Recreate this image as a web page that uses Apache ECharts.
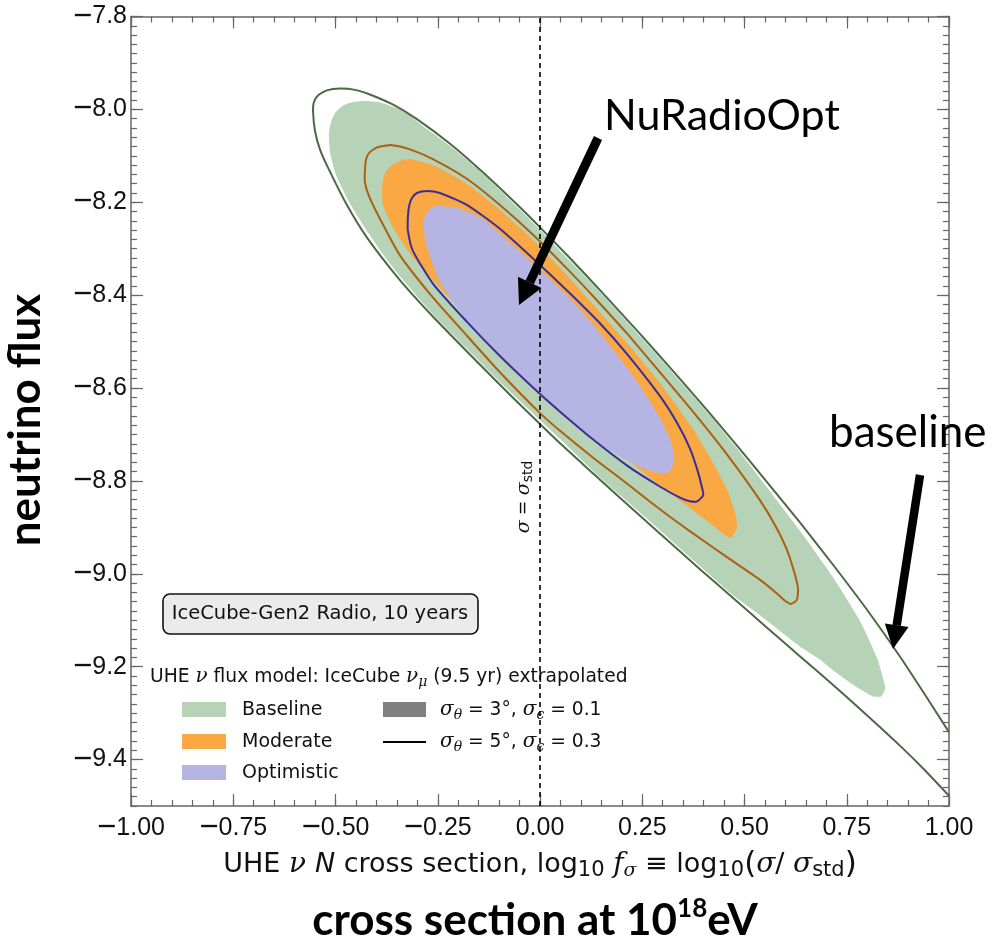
<!DOCTYPE html>
<html>
<head>
<meta charset="utf-8">
<script src="https://cdn.jsdelivr.net/npm/echarts@6.0.0/dist/echarts.min.js"></script>
<style>
  html, body { margin: 0; padding: 0; background: #fff; }
  #chart { width: 994px; height: 947px; }
</style>
</head>
<body>
<div id="chart"></div>
<script>
// Axis ranges and labelled tick positions
const xRange = [-1, 1];
const yRange = [-9.5, -7.8];
const xTickValues = [-1, -0.75, -0.5, -0.25, 0, 0.25, 0.5, 0.75, 1];
const yTickValues = [-9.4, -9.2, -9.0, -8.8, -8.6, -8.4, -8.2, -8.0, -7.8];
const xMinorStep = 0.05;
const yMinorStep = 0.02;
const stdCrossSection = 0; // log10 f_sigma = 0

// Baseline, sigma_theta = 5 deg / sigma_eps = 0.3 (outline, leaves through the right edge)
const baselineEdge = [
  [1.000,-9.341],[0.941,-9.260],[0.880,-9.178],[0.800,-9.078],[0.716,-8.980],[0.636,-8.890],
  [0.550,-8.797],[0.477,-8.719],[0.408,-8.647],[0.325,-8.563],[0.244,-8.483],[0.159,-8.401],
  [0.073,-8.320],[0.000,-8.254],[-0.056,-8.205],[-0.139,-8.136],[-0.220,-8.074],[-0.301,-8.021],
  [-0.359,-7.990],[-0.416,-7.968],[-0.452,-7.958],[-0.489,-7.955],[-0.521,-7.959],[-0.543,-7.970],
  [-0.553,-7.985],[-0.555,-8.004],[-0.550,-8.047],[-0.538,-8.086],[-0.518,-8.126],[-0.472,-8.206],
  [-0.423,-8.276],[-0.342,-8.368],[-0.262,-8.446],[-0.178,-8.522],[-0.098,-8.593],[-0.024,-8.657],
  [0.049,-8.719],[0.130,-8.784],[0.196,-8.837],[0.293,-8.913],[0.391,-8.990],[0.472,-9.052],
  [0.555,-9.116],[0.636,-9.178],[0.716,-9.239],[0.800,-9.305],[0.880,-9.370],[0.941,-9.423],
  [1.000,-9.478]
];
// Baseline, sigma_theta = 3 deg / sigma_eps = 0.1 (filled)
const baselineFill = [
  [-0.516,-8.051],[-0.511,-8.028],[-0.501,-8.008],[-0.484,-7.993],[-0.462,-7.985],[-0.428,-7.982],
  [-0.391,-7.985],[-0.355,-7.996],[-0.325,-8.008],[-0.301,-8.026],[-0.220,-8.079],[-0.139,-8.139],
  [-0.056,-8.210],[0.000,-8.259],[0.073,-8.326],[0.159,-8.405],[0.244,-8.488],[0.325,-8.568],
  [0.408,-8.651],[0.477,-8.725],[0.555,-8.814],[0.636,-8.908],[0.716,-9.007],[0.782,-9.101],
  [0.824,-9.181],[0.839,-9.226],[0.844,-9.247],[0.834,-9.264],[0.814,-9.264],[0.787,-9.251],
  [0.758,-9.234],[0.721,-9.211],[0.685,-9.185],[0.636,-9.157],[0.604,-9.135],[0.555,-9.101],
  [0.521,-9.078],[0.472,-9.046],[0.391,-8.983],[0.293,-8.906],[0.196,-8.831],[0.130,-8.779],
  [0.049,-8.710],[-0.024,-8.649],[-0.098,-8.587],[-0.178,-8.516],[-0.262,-8.441],[-0.342,-8.360],
  [-0.381,-8.315],[-0.425,-8.259],[-0.467,-8.199],[-0.499,-8.141],[-0.513,-8.094]
];
// Moderate
const moderateEdge = [
  [-0.428,-8.131],[-0.425,-8.107],[-0.416,-8.092],[-0.396,-8.081],[-0.362,-8.077],[-0.318,-8.086],
  [-0.262,-8.107],[-0.178,-8.150],[-0.098,-8.206],[-0.017,-8.270],[0.066,-8.343],[0.139,-8.411],
  [0.213,-8.483],[0.293,-8.566],[0.374,-8.651],[0.457,-8.743],[0.538,-8.842],[0.575,-8.896],
  [0.604,-8.949],[0.623,-9.001],[0.631,-9.033],[0.628,-9.056],[0.614,-9.065],[0.599,-9.058],
  [0.575,-9.039],[0.538,-9.013],[0.457,-8.964],[0.374,-8.913],[0.293,-8.861],[0.213,-8.806],
  [0.130,-8.750],[0.049,-8.692],[0.000,-8.654],[-0.098,-8.566],[-0.178,-8.488],[-0.262,-8.405],
  [-0.342,-8.315],[-0.384,-8.248],[-0.416,-8.191],[-0.428,-8.158]
];
const moderateFill = [
  [-0.386,-8.163],[-0.379,-8.137],[-0.362,-8.120],[-0.342,-8.111],[-0.318,-8.107],[-0.262,-8.120],
  [-0.178,-8.161],[-0.098,-8.216],[-0.017,-8.281],[0.049,-8.341],[0.130,-8.420],[0.213,-8.503],
  [0.293,-8.589],[0.374,-8.688],[0.416,-8.750],[0.457,-8.818],[0.477,-8.870],[0.482,-8.900],
  [0.467,-8.923],[0.447,-8.913],[0.416,-8.891],[0.374,-8.863],[0.293,-8.810],[0.213,-8.754],
  [0.130,-8.694],[0.049,-8.634],[-0.032,-8.570],[-0.098,-8.516],[-0.178,-8.446],[-0.262,-8.368],
  [-0.311,-8.319],[-0.359,-8.255],[-0.384,-8.206]
];
// Optimistic
const optimisticEdge = [
  [-0.323,-8.233],[-0.320,-8.208],[-0.313,-8.191],[-0.301,-8.180],[-0.276,-8.176],[-0.245,-8.180],
  [-0.178,-8.206],[-0.098,-8.257],[-0.017,-8.321],[0.066,-8.390],[0.147,-8.461],[0.213,-8.527],
  [0.293,-8.617],[0.335,-8.675],[0.367,-8.731],[0.386,-8.780],[0.396,-8.814],[0.399,-8.831],
  [0.384,-8.844],[0.367,-8.844],[0.342,-8.836],[0.293,-8.812],[0.213,-8.767],[0.130,-8.711],
  [0.049,-8.651],[0.000,-8.613],[-0.098,-8.531],[-0.178,-8.458],[-0.262,-8.375],[-0.311,-8.304],
  [-0.323,-8.261]
];
const optimisticFill = [
  [-0.245,-8.208],[-0.203,-8.212],[-0.139,-8.236],[-0.098,-8.268],[-0.017,-8.332],[0.066,-8.401],
  [0.130,-8.463],[0.213,-8.557],[0.252,-8.606],[0.293,-8.664],[0.318,-8.711],[0.328,-8.748],
  [0.323,-8.771],[0.311,-8.784],[0.286,-8.782],[0.252,-8.773],[0.213,-8.756],[0.130,-8.711],
  [0.049,-8.651],[0.000,-8.611],[-0.098,-8.529],[-0.178,-8.456],[-0.245,-8.370],[-0.276,-8.298],
  [-0.284,-8.261],[-0.284,-8.240],[-0.276,-8.221],[-0.262,-8.210]
];

const COLORS = {
  baselineFill: '#b6d2b7', moderateFill: '#f9a844', optimisticFill: '#b5b4e2',
  baselineEdge: '#4b6a44', moderateEdge: '#ad6012', optimisticEdge: '#3a2f99'
};

const SANS = 'DejaVu Sans';
const SERIF = 'DejaVu Serif';
const NUM = 'Liberation Sans';
const BIG = 'Lato';

// Closed region or open outline drawn through the cartesian scales
function contour(name, pts, closed, style, z) {
  return {
    type: 'custom', name: name, coordinateSystem: 'cartesian2d',
    xAxisIndex: 0, yAxisIndex: 0, silent: true, z: z, data: pts,
    renderItem: function (params, api) {
      if (params.dataIndex !== 0) return null;
      const points = pts.map(function (p) { return api.coord(p); });
      return {
        type: closed ? 'polygon' : 'polyline',
        shape: { points: points, smooth: 0.2 },
        style: style
      };
    }
  };
}

const numRich = {
  m: { fontFamily: NUM, fontSize: 33, lineHeight: 30, color: '#111', verticalAlign: 'middle' },
  n: { fontFamily: NUM, fontSize: 25, lineHeight: 30, color: '#111', verticalAlign: 'middle' }
};
function fmt(v, d) {
  const r = Math.abs(v).toFixed(d);
  return v < -1e-9 ? '{m|\u2212}{n|' + r + '}' : '{n|' + r + '}';
}

const titleRich = {
  t: { fontFamily: SANS, fontSize: 27, lineHeight: 32, color: '#111', verticalAlign: 'middle' },
  g: { fontFamily: SERIF, fontStyle: 'italic', fontSize: 28, lineHeight: 32, color: '#111', verticalAlign: 'middle' },
  n: { fontFamily: SANS, fontStyle: 'italic', fontSize: 27, lineHeight: 32, color: '#111', verticalAlign: 'middle' },
  s: { fontFamily: SANS, fontSize: 21, lineHeight: 14, color: '#111', verticalAlign: 'bottom' },
  gs: { fontFamily: SERIF, fontStyle: 'italic', fontSize: 19, lineHeight: 14, color: '#111', verticalAlign: 'bottom' },
  p: { fontFamily: SANS, fontSize: 31, lineHeight: 32, color: '#111', verticalAlign: 'middle' }
};

const legendRich = {
  t: { fontFamily: SANS, fontSize: 18.7, lineHeight: 24, fill: '#111', verticalAlign: 'middle' },
  g: { fontFamily: SERIF, fontStyle: 'italic', fontSize: 20, lineHeight: 24, fill: '#111', verticalAlign: 'middle' },
  s: { fontFamily: SERIF, fontStyle: 'italic', fontSize: 14, lineHeight: 12, fill: '#111', verticalAlign: 'bottom' }
};

const frameLine = { color: '#666', width: 1.5 };
const tickLine = { color: '#666', width: 1.2 };

function majorAxis(pos, range, ticks, labels) {
  return {
    type: 'value', position: pos, min: range[0], max: range[1],
    axisLine: { show: true, onZero: false, lineStyle: frameLine },
    axisTick: { show: true, inside: true, length: 12, customValues: ticks, lineStyle: tickLine },
    axisLabel: labels ? labels : { show: false },
    splitLine: { show: false }
  };
}
function minorAxis(pos, range, step) {
  return {
    type: 'value', position: pos, min: range[0], max: range[1], interval: step,
    axisLine: { show: false, onZero: false },
    axisTick: { show: true, inside: true, length: 6, lineStyle: tickLine },
    axisLabel: { show: false },
    splitLine: { show: false }
  };
}

const xBottom = majorAxis('bottom', xRange, xTickValues, {
  show: true, customValues: xTickValues, margin: 7,
  formatter: function (v) { return fmt(v, 2); }, rich: numRich
});
xBottom.name = '{t|UHE }{g|\u03bd }{n|N}{t| cross section, log}{s|10}{t| }{g|f}{gs|\u03c3}{t| \u2261 log}{s|10}{p|(}{g|\u03c3}{t|/ }{g|\u03c3}{s|std}{p|)}';
xBottom.nameLocation = 'middle';
xBottom.nameGap = 42;
xBottom.nameTextStyle = { rich: titleRich };

const yLeft = majorAxis('left', yRange, yTickValues, {
  show: true, customValues: yTickValues, margin: 4,
  formatter: function (v) { return fmt(v, 1); }, rich: numRich
});

// Arrow helper: shaft plus triangular head
function arrow(from, tip, headLen, headHalf, width) {
  const dx = tip[0] - from[0], dy = tip[1] - from[1];
  const len = Math.sqrt(dx * dx + dy * dy);
  const ux = dx / len, uy = dy / len;
  const bx = tip[0] - headLen * ux, by = tip[1] - headLen * uy;
  const nx = -uy, ny = ux;
  return [
    { type: 'polyline', z: 60, shape: { points: [from, [bx, by]] },
      style: { stroke: '#000', lineWidth: width, fill: null } },
    { type: 'polygon', z: 60,
      shape: { points: [tip, [bx + headHalf * nx, by + headHalf * ny], [bx - headHalf * nx, by - headHalf * ny]] },
      style: { fill: '#000' } }
  ];
}

const legendRows = [
  { label: 'Baseline', color: COLORS.baselineFill, y: 710 },
  { label: 'Moderate', color: COLORS.moderateFill, y: 742 },
  { label: 'Optimistic', color: COLORS.optimisticFill, y: 773 }
];

const graphics = [
  // info box
  { type: 'rect', z: 50, shape: { x: 163, y: 594, width: 315, height: 40, r: 7 },
    style: { fill: '#ebebeb', stroke: '#111', lineWidth: 1.6 } },
  { type: 'text', z: 51, x: 320, y: 614,
    style: { text: 'IceCube-Gen2 Radio, 10 years', fontFamily: SANS, fontSize: 19.5, fill: '#111',
             align: 'center', verticalAlign: 'middle' } },
  // legend heading
  { type: 'text', z: 1, x: 150, y: 677,
    style: { text: '{t|UHE }{g|\u03bd}{t| flux model: IceCube }{g|\u03bd}{s|\u03bc}{t| (9.5 yr) extrapolated}',
             rich: legendRich, align: 'left', verticalAlign: 'middle' } },
  // resolution key
  { type: 'rect', z: 1, shape: { x: 383, y: 702, width: 43, height: 15 }, style: { fill: '#808080' } },
  { type: 'line', z: 1, shape: { x1: 383, y1: 742, x2: 426, y2: 742 }, style: { stroke: '#000', lineWidth: 2 } },
  { type: 'text', z: 1, x: 440, y: 710,
    style: { text: '{g|\u03c3}{s|\u03b8}{t| = 3\u00b0, }{g|\u03c3}{s|\u03f5}{t| = 0.1}', rich: legendRich,
             align: 'left', verticalAlign: 'middle' } },
  { type: 'text', z: 1, x: 440, y: 742,
    style: { text: '{g|\u03c3}{s|\u03b8}{t| = 5\u00b0, }{g|\u03c3}{s|\u03f5}{t| = 0.3}', rich: legendRich,
             align: 'left', verticalAlign: 'middle' } },
  // reference line label
  { type: 'text', z: 40, x: 524, y: 497, rotation: Math.PI / 2,
    style: { text: '{g|\u03c3}{t| = }{g|\u03c3}{s|std}',
             rich: {
               g: { fontFamily: SERIF, fontStyle: 'italic', fontSize: 19, lineHeight: 22, fill: '#111', verticalAlign: 'middle' },
               t: { fontFamily: SANS, fontSize: 17, lineHeight: 22, fill: '#111', verticalAlign: 'middle' },
               s: { fontFamily: SANS, fontSize: 14, lineHeight: 10, fill: '#111', verticalAlign: 'bottom' }
             },
             align: 'center', verticalAlign: 'middle' } },
  // annotations
  { type: 'text', z: 61, x: 604, y: 116,
    style: { text: 'NuRadioOpt', fontFamily: BIG, fontSize: 43, fill: '#000', align: 'left', verticalAlign: 'middle' } },
  { type: 'text', z: 61, x: 829, y: 433,
    style: { text: 'baseline', fontFamily: BIG, fontSize: 44, fill: '#000', align: 'left', verticalAlign: 'middle' } },
  { type: 'text', z: 61, x: 26, y: 420, rotation: Math.PI / 2,
    style: { text: 'neutrino flux', fontFamily: BIG, fontWeight: 'bold', fontSize: 44, fill: '#000',
             align: 'center', verticalAlign: 'middle' } },
  { type: 'text', z: 61, x: 535, y: 921,
    style: { text: '{a|cross section at 10}{b|18}{a|eV}',
             rich: {
               a: { fontFamily: BIG, fontWeight: 'bold', fontSize: 44, lineHeight: 50, fill: '#000', verticalAlign: 'middle' },
               b: { fontFamily: BIG, fontWeight: 'bold', fontSize: 26, lineHeight: 34, fill: '#000', verticalAlign: 'top' }
             },
             align: 'center', verticalAlign: 'middle' } }
].concat(
  arrow([598, 138], [519, 305], 25, 13, 9),
  arrow([920, 475], [893, 649], 24, 12, 8.5)
);
legendRows.forEach(function (r) {
  graphics.push({ type: 'rect', z: 1, shape: { x: 182, y: r.y - 8, width: 44, height: 15 }, style: { fill: r.color } });
  graphics.push({ type: 'text', z: 1, x: 242, y: r.y,
    style: { text: r.label, fontFamily: SANS, fontSize: 19, fill: '#111', align: 'left', verticalAlign: 'middle' } });
});

const chart = echarts.init(document.getElementById('chart'), null, { renderer: 'canvas' });
chart.setOption({
  animation: false,
  backgroundColor: '#ffffff',
  grid: { left: 131, right: 45, top: 13, bottom: 141, containLabel: false },
  xAxis: [
    xBottom,
    minorAxis('bottom', xRange, xMinorStep),
    majorAxis('top', xRange, xTickValues, null),
    minorAxis('top', xRange, xMinorStep)
  ],
  yAxis: [
    yLeft,
    minorAxis('left', yRange, yMinorStep),
    majorAxis('right', yRange, yTickValues, null),
    minorAxis('right', yRange, yMinorStep)
  ],
  series: [
    contour('Baseline 3°', baselineFill, true, { fill: COLORS.baselineFill, stroke: null }, 2),
    contour('Moderate 3°', moderateFill, true, { fill: COLORS.moderateFill, stroke: null }, 3),
    contour('Optimistic 3°', optimisticFill, true, { fill: COLORS.optimisticFill, stroke: null }, 4),
    contour('Baseline 5°', baselineEdge, false, { fill: null, stroke: COLORS.baselineEdge, lineWidth: 2 }, 5),
    contour('Moderate 5°', moderateEdge, true, { fill: null, stroke: COLORS.moderateEdge, lineWidth: 2 }, 5),
    contour('Optimistic 5°', optimisticEdge, true, { fill: null, stroke: COLORS.optimisticEdge, lineWidth: 2 }, 5),
    {
      type: 'line', name: 'sigma_std', xAxisIndex: 0, yAxisIndex: 0, z: 20, silent: true,
      symbol: 'none', data: [[stdCrossSection, yRange[0]], [stdCrossSection, yRange[1]]],
      lineStyle: { color: '#000', width: 1.6, type: [5, 4] }
    }
  ],
  graphic: graphics
});
</script>
</body>
</html>
